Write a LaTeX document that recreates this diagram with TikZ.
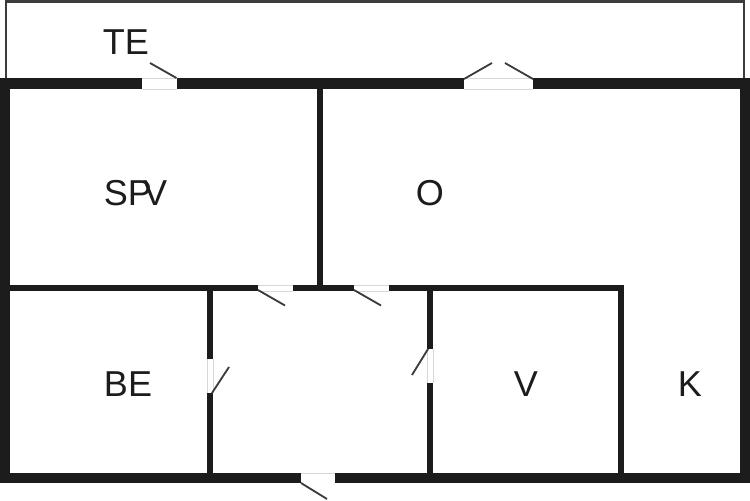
\documentclass[tikz,border=0pt]{standalone}
\usepackage{fontspec}
\setmainfont{Liberation Sans}
\definecolor{mywall}{RGB}{28, 28, 28}
\definecolor{myleaf}{RGB}{60, 60, 60}
\definecolor{mygap}{RGB}{215, 215, 215}
\tikzset{
  outerwall/.style = {line width = 5.8 pt, mywall},
  innerwall/.style = {line width = 3.3 pt, mywall},
  terrace/.style = {line width = 1.4 pt, myleaf},
  leaf/.style = {line width = 1.05 pt, myleaf},
  gapline/.style = {line width = 0.4 pt, mygap},
  room/.style = {font = \fontsize{20.5}{21}\selectfont, text = mywall, inner sep = 0 pt}
}
\begin{document}
\begin{tikzpicture}[x = 0.02cm, y = -0.02cm]
\useasboundingbox (0,0) rectangle (750,500);
\draw[terrace] (6,78) -- (6,1.5) -- (744,1.5) -- (744,78);
% door openings
\draw[gapline] (142,78) -- (176.5,78) (142,89) -- (176.5,89);
\draw[gapline] (464,78) -- (533,78) (464,89) -- (533,89);
\draw[gapline] (258,285) -- (293,285) (258,291) -- (293,291);
\draw[gapline] (354,285) -- (389,285) (354,291) -- (389,291);
\draw[gapline] (207.5,359) -- (207.5,393) (213,359) -- (213,393);
\draw[gapline] (427,349) -- (427,383) (433,349) -- (433,383);
\draw[gapline] (300.5,473) -- (334.5,473);
% outer walls
\draw[outerwall] (142,83.5) -- (5,83.5) -- (5,478) -- (300.5,478);
\draw[outerwall] (334.5,478) -- (745,478) -- (745,83.5) -- (533,83.5);
\draw[outerwall] (464,83.5) -- (176.5,83.5);
% inner walls
\draw[innerwall] (320,88) -- (320,288);
\draw[innerwall] (10,288) -- (258,288) (293,288) -- (354,288);
\draw[innerwall] (389,288) -- (621,288) -- (621,474);
\draw[innerwall] (210,288) -- (210,359) (210,393) -- (210,474);
\draw[innerwall] (430,288) -- (430,349) (430,383) -- (430,474);
% door leaves
\draw[leaf] (176.5,78) -- (150,63);
\draw[leaf] (464,79) -- (492,63);
\draw[leaf] (533,79) -- (505,63);
\draw[leaf] (258,290) -- (285,305.5);
\draw[leaf] (354,290) -- (381,305.5);
\draw[leaf] (212,393) -- (229,367);
\draw[leaf] (428,349) -- (412,375);
\draw[leaf] (301,483) -- (327,499);
% rooms
\node[room] (te) at (126,42) {TE};
\node[room] (spv) at (135.5,193) {SP\kern -5pt V};
\node[room] (o) at (430,193) {O};
\node[room] (be) at (128,384) {BE};
\node[room] (v) at (526,384) {V};
\node[room] (k) at (690,384) {K};
\end{tikzpicture}
\end{document}
